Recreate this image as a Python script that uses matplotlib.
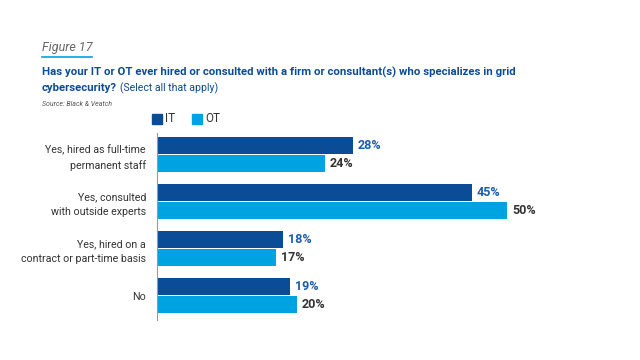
import matplotlib.pyplot as plt
import numpy as np

plt.rcParams["font.family"] = ["Roboto", "DejaVu Sans"]

categories = [
    "Yes, hired as full-time\npermanent staff",
    "Yes, consulted\nwith outside experts",
    "Yes, hired on a\ncontract or part-time basis",
    "No",
]
it_values = [28, 45, 18, 19]
ot_values = [24, 50, 17, 20]

IT_COLOR = "#0B4C97"
OT_COLOR = "#00A3E2"
IT_TEXT = "#1B5CAE"
OT_TEXT = "#333333"
TITLE_COLOR = "#0B4C97"

W, H = 640, 360
fig = plt.figure(figsize=(W / 100, H / 100), dpi=100)
fig.patch.set_facecolor("white")

# axes placed in pixel terms
left, right, top, bottom = 157, 597, 133, 320
ax = fig.add_axes([left / W, 1 - bottom / H, (right - left) / W, (bottom - top) / H])

y = np.arange(len(categories), dtype=float)
h = 0.355
off = 0.195
ax.barh(y - off, it_values, height=h, color=IT_COLOR, edgecolor="none")
ax.barh(y + off, ot_values, height=h, color=OT_COLOR, edgecolor="none")

for yi, v in zip(y - off, it_values):
    ax.text(v + 0.7, yi, f"{v}%", va="center", ha="left", fontsize=9,
            fontweight="bold", color=IT_TEXT)
for yi, v in zip(y + off, ot_values):
    ax.text(v + 0.7, yi, f"{v}%", va="center", ha="left", fontsize=9,
            fontweight="bold", color=OT_TEXT)

ax.set_xlim(0, (right - left) / 7.0)
ax.set_ylim(3.52, -0.457)
ax.set_yticks(y, categories, fontsize=7.7, color="#333333", linespacing=1.5)
ax.tick_params(axis="y", length=0, pad=8)
ax.set_xticks([])
for s in ["top", "right", "bottom"]:
    ax.spines[s].set_visible(False)
ax.spines["left"].set_color("#999999")
ax.spines["left"].set_linewidth(0.8)

renderer = fig.canvas.get_renderer()


def fit_text(x, ypix, s, target_w, **kw):
    t = fig.text(x / W, 1 - ypix / H, s, va="center", ha="left", **kw)
    w = t.get_window_extent(renderer).width
    t.set_fontsize(t.get_fontsize() * target_w / w)
    return t


# header text
fig.text(42 / W, 1 - 48 / H, "Figure 17", fontsize=9, style="italic",
         color="#666666", va="center", ha="left")
fig.add_artist(plt.Line2D([42 / W, 92 / W], [1 - 57 / H, 1 - 57 / H],
                          color=OT_COLOR, lw=1.2))
line1 = fit_text(42, 72,
                 "Has your IT or OT ever hired or consulted with a firm or consultant(s) who specializes in grid",
                 472, fontsize=10, fontweight="bold", color=TITLE_COLOR)
fs = line1.get_fontsize()
t2 = fig.text(42 / W, 1 - 88 / H, "cybersecurity?", fontsize=fs, fontweight="bold",
              color=TITLE_COLOR, va="center", ha="left")
x_end = t2.get_window_extent(renderer).x1
fig.text((x_end + 3) / W, 1 - 88 / H, "(Select all that apply)", fontsize=fs * 0.92,
         color=TITLE_COLOR, va="center", ha="left")
fig.text(42 / W, 1 - 104 / H, "Source: Black & Veatch", fontsize=5, style="italic",
         color="#555555", va="center", ha="left")

# legend
for x0, col, lab in [(152, IT_COLOR, "IT"), (192, OT_COLOR, "OT")]:
    fig.add_artist(plt.Rectangle((x0 / W, 1 - 124 / H), 10 / W, 10 / H,
                                 color=col, transform=fig.transFigure))
    fig.text((x0 + 13) / W, 1 - 119 / H, lab, fontsize=8.5, color="#333333",
             va="center", ha="left")

fig.savefig("out.png", dpi=100, facecolor="white")
